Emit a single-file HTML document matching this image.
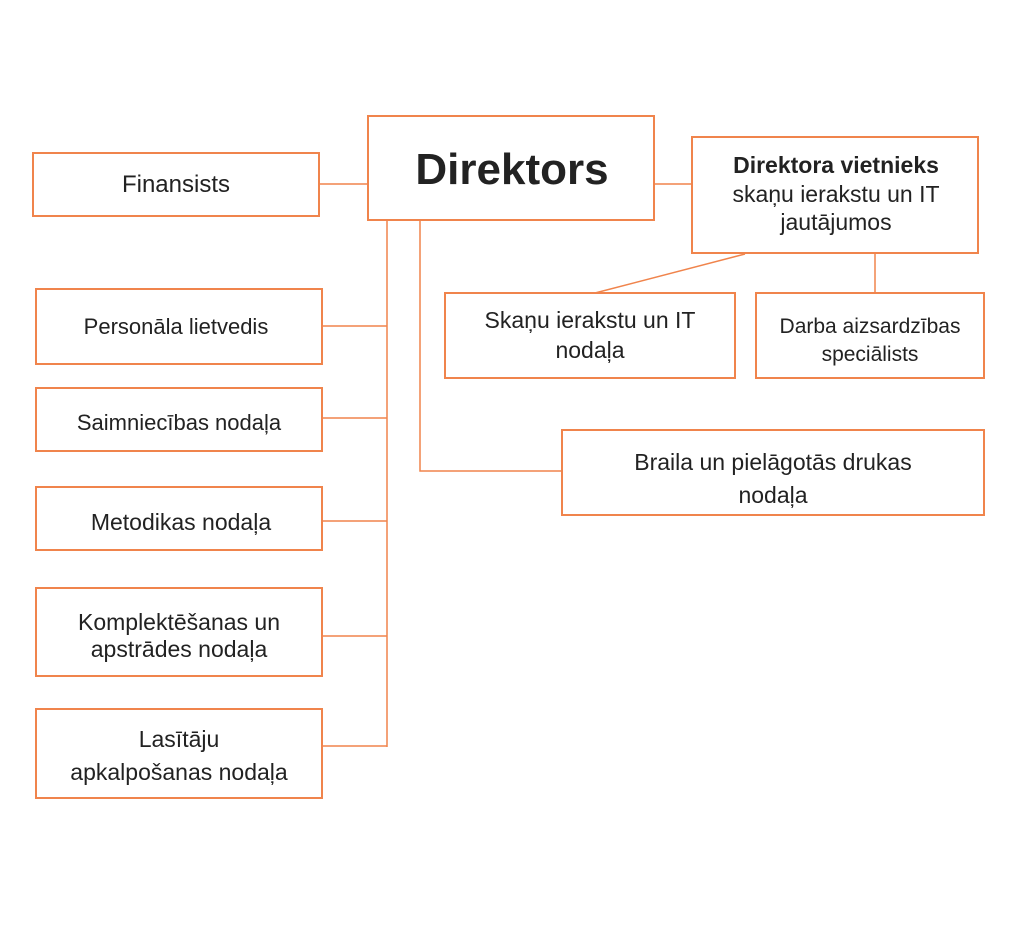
<!DOCTYPE html>
<html><head><meta charset="utf-8"><style>
body{margin:0;background:#fff;}
svg text{font-family:"Liberation Sans",sans-serif;fill:#222;text-anchor:middle;}
</style></head><body>
<svg width="1024" height="944" xmlns="http://www.w3.org/2000/svg">
<g stroke="#f0844c" stroke-width="1.5" fill="none">
<line x1="319" y1="184" x2="368" y2="184"/>
<line x1="654" y1="184" x2="692" y2="184"/>
<line x1="387" y1="220" x2="387" y2="747"/>
<line x1="322" y1="326" x2="387" y2="326"/>
<line x1="322" y1="418" x2="387" y2="418"/>
<line x1="322" y1="521" x2="387" y2="521"/>
<line x1="322" y1="636" x2="387" y2="636"/>
<line x1="322" y1="746" x2="387" y2="746"/>
<polyline points="420,220 420,471 562,471"/>
<line x1="745" y1="254" x2="595" y2="293"/>
<line x1="875" y1="253" x2="875" y2="293"/>
</g>
<g stroke="#f0844c" stroke-width="2" fill="#fff">
<rect x="33" y="153" width="286" height="63"/>
<rect x="368" y="116" width="286" height="104"/>
<rect x="692" y="137" width="286" height="116"/>
<rect x="36" y="289" width="286" height="75"/>
<rect x="36" y="388" width="286" height="63"/>
<rect x="36" y="487" width="286" height="63"/>
<rect x="36" y="588" width="286" height="88"/>
<rect x="36" y="709" width="286" height="89"/>
<rect x="445" y="293" width="290" height="85"/>
<rect x="756" y="293" width="228" height="85"/>
<rect x="562" y="430" width="422" height="85"/>
</g>
<text x="176" y="192" font-size="24">Finansists</text>
<text x="512" y="184" font-size="44" font-weight="bold">Direktors</text>
<text x="836" y="173" font-size="23" font-weight="bold">Direktora vietnieks</text>
<text x="836" y="202" font-size="23">skaņu ierakstu un IT</text>
<text x="836" y="230" font-size="23">jautājumos</text>
<text x="176" y="334" font-size="22">Personāla lietvedis</text>
<text x="179" y="430" font-size="22">Saimniecības nodaļa</text>
<text x="181" y="530" font-size="23">Metodikas nodaļa</text>
<text x="179" y="630" font-size="23">Komplektēšanas un</text>
<text x="179" y="657" font-size="23">apstrādes nodaļa</text>
<text x="179" y="747" font-size="23">Lasītāju</text>
<text x="179" y="780" font-size="23">apkalpošanas nodaļa</text>
<text x="590" y="328" font-size="23">Skaņu ierakstu un IT</text>
<text x="590" y="358" font-size="23">nodaļa</text>
<text x="870" y="333" font-size="21">Darba aizsardzības</text>
<text x="870" y="361" font-size="21">speciālists</text>
<text x="773" y="470" font-size="23">Braila un pielāgotās drukas</text>
<text x="773" y="503" font-size="23">nodaļa</text>
</svg>
</body></html>
